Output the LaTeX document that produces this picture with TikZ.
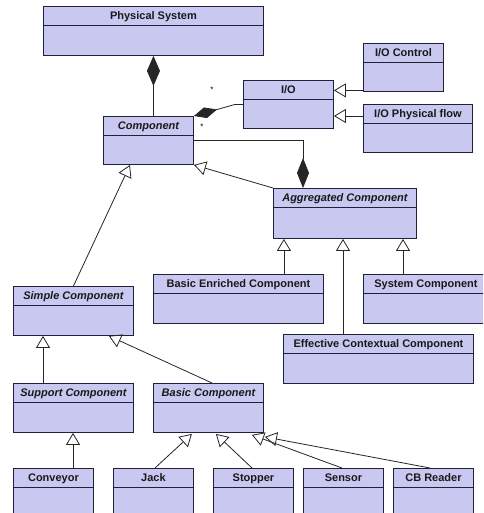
\documentclass[tikz,border=0pt]{standalone}
\usepackage{fontspec}
\setmainfont{Liberation Sans}
\usetikzlibrary{arrows.meta,calc}
\definecolor{clsfill}{HTML}{C8C8F0}
\definecolor{clsdraw}{HTML}{202038}
\tikzset{
  cls/.style={draw=clsdraw, fill=clsfill, line width=0.9pt, inner sep=0pt, anchor=north west},
  clsline/.style={draw=clsdraw, line width=0.9pt},
  clstext/.style={inner sep=0pt, text height=8pt, text depth=0pt, anchor=base, font=\fontsize{11}{13}\selectfont\bfseries, text=black!90},
  gen/.style={draw=black!85, line width=0.8pt, -{Triangle[open, width=14pt, length=12pt, line width=0.8pt]}},
  compo/.style={draw=black!85, line width=0.8pt, -{Diamond[width=13pt, length=30pt]}},
  mult/.style={inner sep=0pt, font=\fontsize{8}{9}\selectfont}
}
\newcommand{\umlcls}[6]{%
  \node[cls, minimum width=#4pt, minimum height=#5pt] (#1) at (#2,#3) {};
  \draw[clsline] ([yshift=-19pt]#1.north west) -- ([yshift=-19pt]#1.north east);
  \node[clstext] (#1-t) at ([yshift=-13.5pt]#1.north) {#6};
}
\begin{document}
\begin{tikzpicture}[x=1pt,y=-1pt]
\useasboundingbox[fill=white] (0,0) rectangle (483,513);
\clip (0,0) rectangle (483,513);
% classes
\umlcls{phys}{43}{6}{220}{49}{Physical System}
\umlcls{ioc}{363}{43}{80}{48}{I/O Control}
\umlcls{io}{243}{80}{90}{48}{I/O}
\umlcls{iopf}{363}{104}{109}{48}{I/O Physical flow}
\umlcls{comp}{103}{116}{90}{48}{\itshape Component}
\umlcls{agg}{273}{188}{143}{50}{\itshape Aggregated Component}
\umlcls{bec}{153}{274}{170}{49}{Basic Enriched Component}
\umlcls{sys}{363}{274}{125}{49}{System Component}
\umlcls{simple}{13}{286}{120}{49}{\itshape Simple Component}
\umlcls{ecc}{283}{334}{190}{49}{Effective Contextual Component}
\umlcls{support}{13}{383}{120}{49}{\itshape Support Component}
\umlcls{basic}{153}{383}{110}{49}{\itshape Basic Component}
\umlcls{conv}{13}{468}{80}{50}{Conveyor}
\umlcls{jack}{113}{468}{80}{50}{Jack}
\umlcls{stop}{213}{468}{80}{50}{Stopper}
\umlcls{sens}{303}{468}{80}{50}{Sensor}
\umlcls{cbr}{393}{468}{80}{50}{CB Reader}
% compositions
\draw[compo] (comp.north -| phys.south) -- (phys.south);
\draw[compo, -{Diamond[width=11pt, length=24pt]}] (io.west) -- ++(-8,0) -- (comp.north east);
\coordinate (aggtop) at ([xshift=30pt]agg.north west);
\draw[compo, -{Diamond[width=12pt, length=30pt]}] (comp.east) -| (aggtop);
\node[mult] (m1) at (212,90) {*};
\node[mult] (m2) at (202,127) {*};
% generalizations
\draw[gen] ([yshift=1.5pt]ioc.south west) coordinate (q1) -- (q1 -| io.east);
\draw[gen] ([yshift=-12pt]iopf.north west) coordinate (q2) -- (q2 -| io.east);
\draw[gen] (agg.north west) -- (comp.south east);
\draw[gen] (simple.north) -- ([xshift=27pt]comp.south west);
\draw[gen] ([xshift=-40pt]bec.north east) coordinate (q3) -- (q3 |- agg.south);
\draw[gen] ([xshift=60pt]ecc.north west) coordinate (q4) -- (q4 |- agg.south);
\draw[gen] ([xshift=40pt]sys.north west) coordinate (q5) -- (q5 |- agg.south);
\draw[gen] ([xshift=30pt]support.north west) coordinate (q6) -- (q6 |- simple.south);
\draw[gen] ([xshift=59pt]basic.north west) -- ([xshift=-25pt]simple.south east);
\draw[gen] ([xshift=60pt]conv.north west) coordinate (q7) -- (q7 |- support.south);
\draw[gen] ([xshift=42pt]jack.north west) -- ([xshift=-72pt,yshift=-1pt]basic.south east);
\draw[gen] ([xshift=39pt]stop.north west) -- ([xshift=-48pt,yshift=-1pt]basic.south east);
\draw[gen] ([xshift=39pt]sens.north west) -- ([xshift=-12pt,yshift=-2pt]basic.south east);
\draw[gen] ([xshift=37pt]cbr.north west) -- ([xshift=1pt,yshift=-4pt]basic.south east);
\end{tikzpicture}
\end{document}
